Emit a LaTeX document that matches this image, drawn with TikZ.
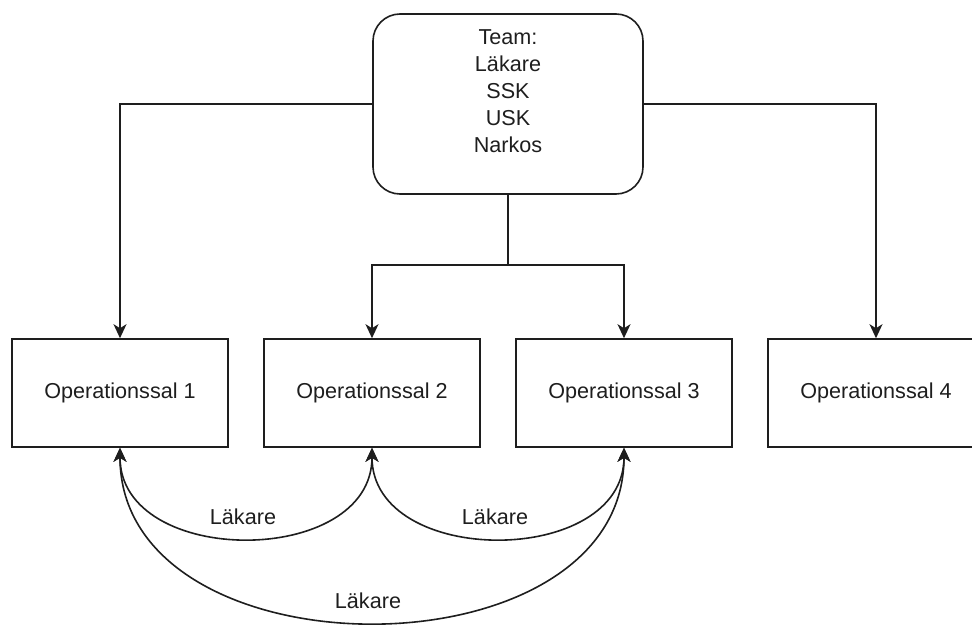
\documentclass[tikz,border=0pt]{standalone}
\usepackage{fontspec}
\setmainfont{Liberation Sans}
\usetikzlibrary{arrows.meta, positioning, calc}
\definecolor{ink}{RGB}{30, 30, 30}

\begin{document}
\begin{tikzpicture}[
            salbox/.style={draw=ink, line width=1.6pt, minimum width=216pt, minimum height=108pt, align=center, text=ink, font=\fontsize{21.6}{27}\selectfont},
            teambox/.style={draw=ink, line width=1.6pt, rounded corners=27pt, minimum width=270pt, minimum height=180pt},
            lbl/.style={text=ink, align=center, font=\fontsize{21.6}{27}\selectfont},
            arrow/.style={-{Stealth[length=14pt, width=13pt, inset=4pt]}, line width=1.6pt, ink},
            twoway/.style={{Stealth[length=14pt, width=13pt, inset=4pt]}-{Stealth[length=14pt, width=13pt, inset=4pt]}, line width=1.6pt, ink}
        ]
            \useasboundingbox (-120pt,-232pt) rectangle (852pt,393pt);

            \node[salbox] (sal1) {Operationssal 1};
            \node[salbox, right=34.4pt of sal1] (sal2) {Operationssal 2};
            \node[salbox, right=34.4pt of sal2] (sal3) {Operationssal 3};
            \node[salbox, right=34.4pt of sal3] (sal4) {Operationssal 4};

            \coordinate (mid23) at ($(sal2.north)!0.5!(sal3.north)$);
            \node[teambox, above=143.4pt of mid23, xshift=10pt] (team) {};
            \node[lbl, yshift=13pt] (teamlist) at (team) {Team:\\Läkare\\SSK\\USK\\Narkos};

            \coordinate[above=73pt of sal2.north] (split2);
            \coordinate[above=73pt of sal3.north] (split3);

            \draw[arrow] (team.west) -| (sal1.north);
            \draw[arrow] (team.east) -| (sal4.north);
            \draw[arrow] (team.south) |- (split2) -- (sal2.north);
            \draw[arrow] (team.south) |- (split3) -- (sal3.north);

            \draw[twoway] (sal1.south) .. controls +(0,-120pt) and +(0,-120pt) .. (sal2.south)
                node[lbl, pos=0.5, yshift=21pt, xshift=-3pt] (doc12) {Läkare};
            \draw[twoway] (sal2.south) .. controls +(0,-120pt) and +(0,-120pt) .. (sal3.south)
                node[lbl, pos=0.5, yshift=21pt, xshift=-3pt] (doc23) {Läkare};
            \draw[twoway] (sal1.south) .. controls +(0,-232pt) and +(0,-232pt) .. (sal3.south)
                node[lbl, pos=0.5, yshift=21pt, xshift=-4pt] (doc13) {Läkare};
        \end{tikzpicture}
\end{document}
